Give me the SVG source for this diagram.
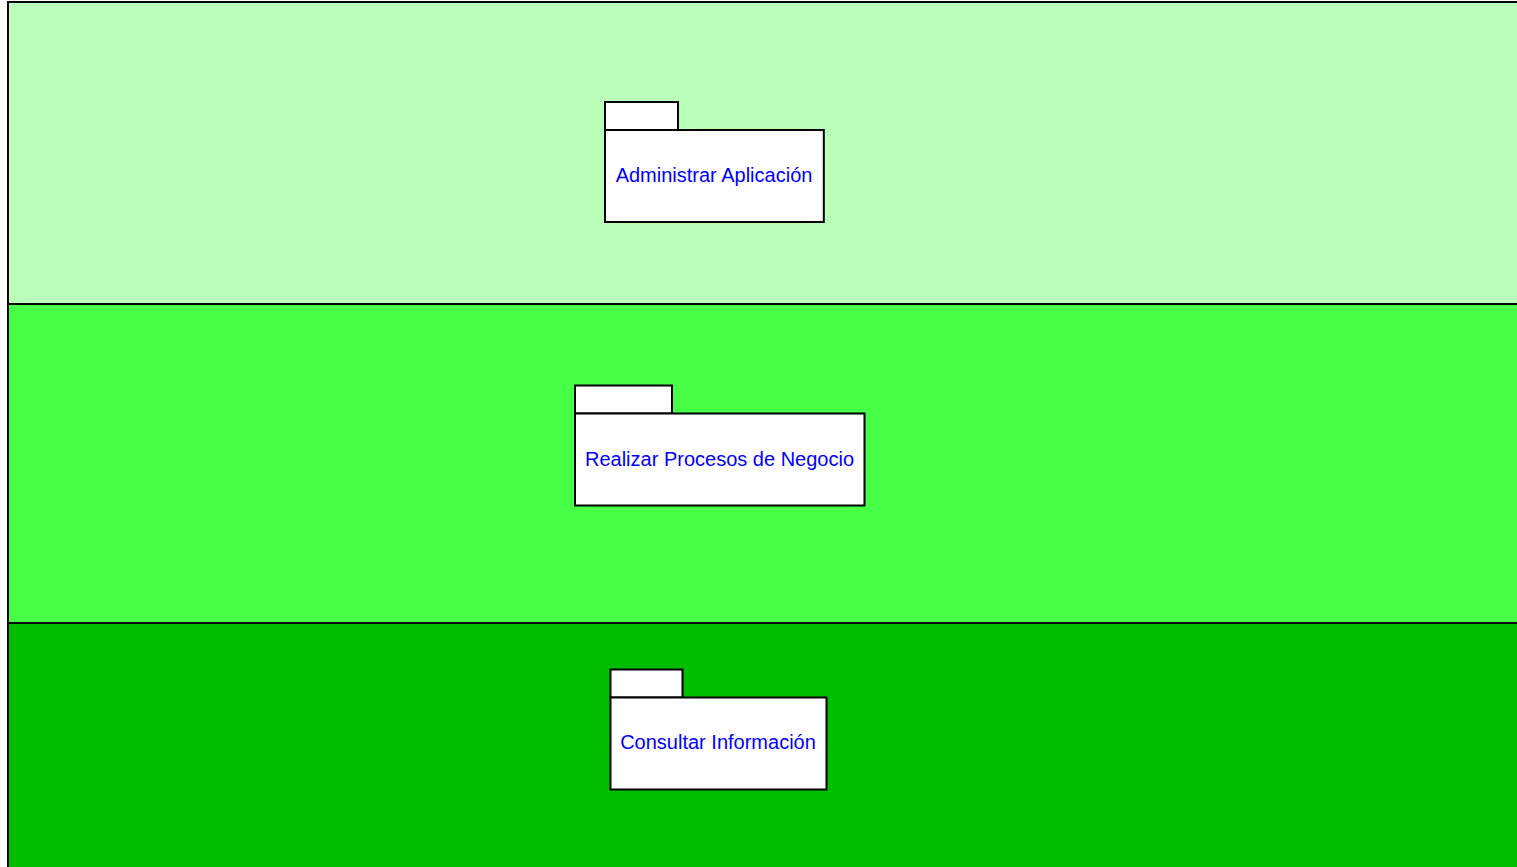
<svg xmlns="http://www.w3.org/2000/svg" width="1517" height="867" viewBox="0 0 1517 867">
<style>
.band{stroke:#000;stroke-width:2}
.pkg{fill:#fff;stroke:#000;stroke-width:2}
.lbl{font-family:"Liberation Sans",Arial,sans-serif;font-size:20px;fill:#0000ff;text-anchor:middle}
</style>
<rect width="1517" height="867" fill="#fff"/>
<g id="bands">
<rect class="band" x="8" y="2" width="1520" height="302" fill="#b9ffb9"/>
<rect class="band" x="8" y="304" width="1520" height="319" fill="#46ff46"/>
<rect class="band" x="8" y="623" width="1520" height="260" fill="#00bd00"/>
</g>
<g id="connectors"></g>
<g id="pkg-administrar">
<rect class="pkg" x="605" y="102" width="73" height="28"/>
<rect class="pkg" x="605" y="130" width="218.800" height="92"/>
<text class="lbl" x="714" y="182">Administrar Aplicación</text>
</g>
<g id="pkg-realizar">
<rect class="pkg" x="575" y="385.500" width="97" height="28"/>
<rect class="pkg" x="575" y="413.500" width="289.500" height="92"/>
<text class="lbl" x="719.500" y="466">Realizar Procesos de Negocio</text>
</g>
<g id="pkg-consultar">
<rect class="pkg" x="610.500" y="669.500" width="72" height="28"/>
<rect class="pkg" x="610.500" y="697.500" width="216" height="92"/>
<text class="lbl" x="718" y="749">Consultar Información</text>
</g>
</svg>
